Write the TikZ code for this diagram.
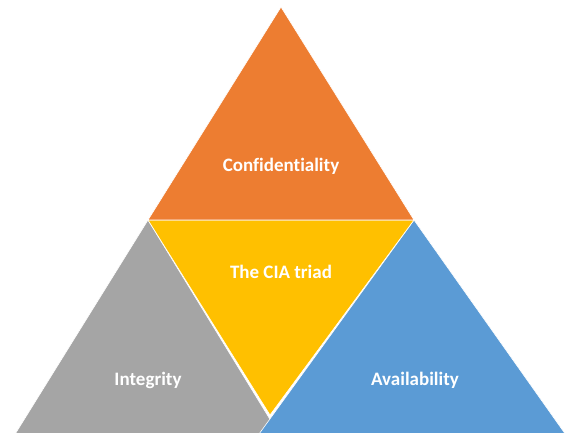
\documentclass[tikz,border=0pt]{standalone}
\usepackage{fontspec}
\setmainfont[Ligatures=NoCommon]{Carlito}
\definecolor{ciaorange}{HTML}{ED7D31}
\definecolor{ciayellow}{HTML}{FFC000}
\definecolor{ciagray}{HTML}{A5A5A5}
\definecolor{ciablue}{HTML}{5B9BD5}
\begin{document}
\begin{tikzpicture}[x=1pt,y=-1pt,
  facet/.style={draw=white,line width=0.6pt,line join=miter},
  label/.style={text=white,font=\fontsize{19}{21}\selectfont\bfseries,inner sep=0pt}]
\useasboundingbox (0,0) rectangle (566,432);
\clip (0,0) rectangle (566,432);
% lower left facet
\fill[ciagray,facet] (148,220) -- (4,452) -- (290,452) -- cycle;
% lower right facet
\fill[ciablue,facet] (414,220) -- (578,452) -- (246,452) -- cycle;
% centre facet
\fill[ciayellow,facet] (148,220) -- (414,220) -- (270,415) -- cycle;
% top facet
\fill[ciaorange,facet] (281,7) -- (414,220) -- (148,220) -- cycle;
\node[label] (conf) at (281,166) {Confidentiality};
\node[label] (triad) at (281,272) {The CIA triad};
\node[label] (integ) at (148,380) {Integrity};
\node[label] (avail) at (415,380) {Availability};
\end{tikzpicture}
\end{document}
